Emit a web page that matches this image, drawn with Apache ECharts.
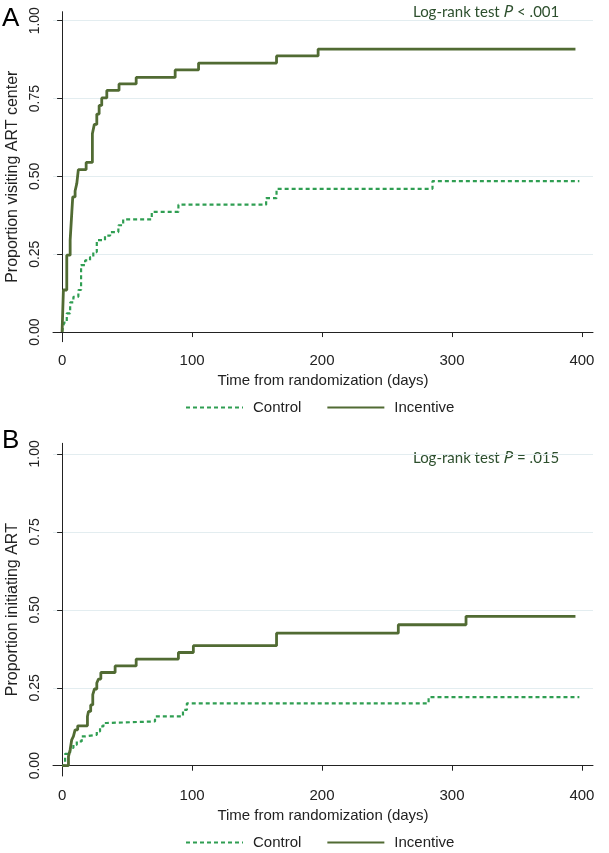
<!DOCTYPE html>
<html>
<head>
<meta charset="utf-8">
<script src="https://cdn.jsdelivr.net/npm/echarts@6/dist/echarts.min.js"></script>
<style>
html,body{margin:0;padding:0;background:#fff;}
#chart{width:609px;height:853px;}
</style>
</head>
<body>
<div id="chart"></div>
<script>
// ---- data ----
const xTicks = [0, 100, 200, 300, 400];
const yTicks = [0, 0.25, 0.5, 0.75, 1];
const legendNames = ['Control', 'Incentive'];

// Panel A: proportion visiting ART center
const aIncentiveDays = [0, 1, 3.6, 6.2, 7.5, 8.2, 10, 11.3, 12.5, 18.5, 23.3, 24.8, 26.7, 28.5, 30.5, 34.4, 43.8, 57, 87, 105, 165, 197, 395];
const aIncentiveVals = [0, 0.135, 0.247, 0.295, 0.386, 0.434, 0.453, 0.477, 0.522, 0.545, 0.637, 0.667, 0.700, 0.728, 0.752, 0.776, 0.797, 0.818, 0.842, 0.864, 0.887, 0.909, 0.909];
const aControlDays = [0, 1.5, 3.6, 6.2, 8.7, 12.5, 14.6, 17.7, 21.5, 24, 26.7, 33, 37, 43.3, 47, 69, 89.5, 157, 165, 285, 398];
const aControlVals = [0, 0.03, 0.06, 0.095, 0.113, 0.135, 0.215, 0.230, 0.241, 0.257, 0.295, 0.310, 0.321, 0.343, 0.362, 0.386, 0.409, 0.430, 0.460, 0.485, 0.485];

// Panel B: proportion initiating ART
const bIncentiveDays = [0, 4.9, 6.2, 7.4, 8.7, 10, 12, 19.5, 20.3, 22, 23.6, 24.9, 26.7, 28, 29.8, 40.8, 57, 89.5, 101, 165, 258.7, 310.8, 395];
const bIncentiveVals = [0, 0.030, 0.051, 0.083, 0.094, 0.115, 0.128, 0.158, 0.174, 0.195, 0.228, 0.246, 0.265, 0.278, 0.299, 0.320, 0.342, 0.363, 0.385, 0.425, 0.452, 0.479, 0.479];
const bControlDays = [0, 2.3, 6.2, 8.7, 11.3, 15.1, 17.7, 26.7, 29.2, 31.8, 34.4, 71.5, 93, 96, 282, 398];
const bControlVals = [0, 0.038, 0.057, 0.067, 0.078, 0.094, 0.099, 0.110, 0.126, 0.137, 0.142, 0.158, 0.179, 0.200, 0.220, 0.220];

const zip = (d, v) => d.map((x, i) => [x, v[i]]);

const incentiveColor = '#516b33';
const controlColor = '#2f9e52';
const gridColor = '#e3edf0';
const axisColor = '#222';
const noteColor = '#2d4f2d';
const font = 'Liberation Sans, Arial, sans-serif';

function xAxisDef(gridIndex) {
  return {
    type: 'value', gridIndex, min: -7, max: 408.5,
    name: 'Time from randomization (days)', nameLocation: 'middle', nameGap: 32,
    nameTextStyle: {fontSize: 15, color: axisColor, fontFamily: font},
    axisLine: {show: true, lineStyle: {color: axisColor, width: 1}},
    axisTick: {show: true, length: 5, customValues: xTicks, lineStyle: {color: axisColor}},
    axisLabel: {customValues: xTicks, fontSize: 15, color: axisColor, fontFamily: font, margin: 12},
    splitLine: {show: false}
  };
}
function yAxisDef(gridIndex, name, min, max) {
  return {
    type: 'value', gridIndex, min, max,
    name, nameLocation: 'middle', nameGap: 29, nameRotate: 90,
    nameTextStyle: {fontSize: 16, color: axisColor, fontFamily: font},
    axisLine: {show: true, lineStyle: {color: axisColor, width: 1}},
    axisTick: {show: true, length: 5, customValues: yTicks, lineStyle: {color: axisColor}},
    axisLabel: {customValues: yTicks, rotate: 90, fontSize: 14, color: axisColor, fontFamily: font, margin: 11,
      formatter: v => v.toFixed(2)},
    splitLine: {show: true, lineStyle: {color: gridColor, width: 1}}
  };
}
function stepSeries(name, data, idx, dashed) {
  return {
    name, type: 'line', step: 'end', xAxisIndex: idx, yAxisIndex: idx,
    data, symbol: 'none', silent: true, animation: false,
    lineStyle: dashed ? {color: controlColor, width: 2.2, type: [4, 3]} : {color: incentiveColor, width: 2.8},
    itemStyle: {color: dashed ? controlColor : incentiveColor}
  };
}
function legendDef(top) {
  return {
    left: 185, top, padding: 0, data: legendNames, itemWidth: 57, itemHeight: 14, itemGap: 25,
    itemStyle: {opacity: 0},
    textStyle: {fontSize: 15, color: axisColor, fontFamily: font, padding: [0, 0, 0, 5]},
    selectedMode: false
  };
}
const noteRich = {
  n: {fontSize: 15, fill: noteColor, fontFamily: 'Lato, sans-serif'},
  i: {fontSize: 17, fill: noteColor, fontStyle: 'italic', fontFamily: 'Noto Sans, sans-serif'}
};

const chart = echarts.init(document.getElementById('chart'), null, {renderer: 'canvas'});
chart.setOption({
  animation: false,
  backgroundColor: '#fff',
  grid: [
    {left: 53, top: 11.7, width: 540, height: 330, outerBoundsMode: 'none', containLabel: false},
    {left: 53, top: 443.3, width: 540, height: 332.7, outerBoundsMode: 'none', containLabel: false}
  ],
  xAxis: [xAxisDef(0), xAxisDef(1)],
  yAxis: [
    yAxisDef(0, 'Proportion visiting ART center', -0.031, 1.029),
    yAxisDef(1, 'Proportion initiating ART', -0.033, 1.034)
  ],
  legend: [legendDef(400), legendDef(835)],
  series: [
    stepSeries('Control', zip(aControlDays, aControlVals), 0, true),
    stepSeries('Incentive', zip(aIncentiveDays, aIncentiveVals), 0, false),
    stepSeries('Control', zip(bControlDays, bControlVals), 1, true),
    stepSeries('Incentive', zip(bIncentiveDays, bIncentiveVals), 1, false)
  ],
  graphic: [
    {type: 'text', left: 2, top: 6, style: {text: 'A', fontSize: 26, fill: '#000', fontFamily: font}},
    {type: 'text', left: 2, top: 428, style: {text: 'B', fontSize: 26, fill: '#000', fontFamily: font}},
    {type: 'text', left: 413, top: 4, style: {text: '{n|Log-rank test }{i|P}{n| < .001}', rich: noteRich}},
    {type: 'text', left: 413, top: 450, style: {text: '{n|Log-rank test }{i|P}{n| = .015}', rich: noteRich}}
  ]
});
</script>
</body>
</html>
